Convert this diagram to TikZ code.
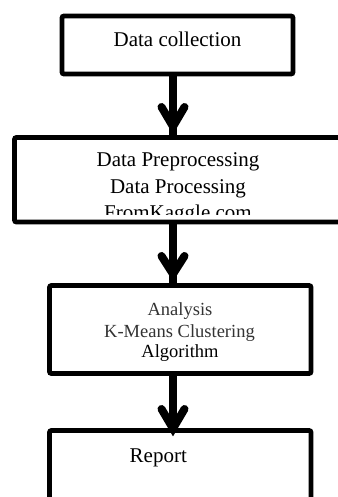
\documentclass[tikz,border=0pt]{standalone}
\usepackage{fontspec}
\setmainfont{Liberation Serif}
\usetikzlibrary{calc}
\begin{document}
\begin{tikzpicture}[x=1pt,y=-1pt,
  box/.style={draw=black, line width=4.8pt, rounded corners=2pt, inner sep=0pt, outer sep=0pt},
  txt/.style={inner sep=0pt, anchor=base, font=\fontsize{21}{25}\selectfont},
  smalltxt/.style={inner sep=0pt, anchor=base, font=\fontsize{18.5}{22}\selectfont},
  shaft/.style={line width=7.5pt},
  chev/.style={line width=8pt, line cap=round, line join=miter}]
\useasboundingbox (0,0) rectangle (337,497);
% boxes
\node[box, minimum width=231pt, minimum height=58pt] (b1) at (177.5,45) {};
\node[box, minimum width=330.5pt, minimum height=84.5pt] (b2) at (179.75,179.75) {};
\node[box, minimum width=261.5pt, minimum height=88pt] (b3) at (180.25,329.5) {};
\node[box, minimum width=261.5pt, minimum height=74.5pt] (b4) at (180.25,467.75) {};
% texts
\node[txt] (t1) at (177.5,46.7) {Data collection};
\node[txt] (t2a) at (178,167) {Data Preprocessing};
\node[txt] (t2b) at (178,193) {Data Processing};
\begin{scope}
  \clip (0,140) rectangle (337,214);
  \node[txt] (t2c) at (178,219) {FromKaggle.com};
\end{scope}
\node[smalltxt, text=black!80] (t3a) at (180,315.5) {Analysis};
\node[smalltxt, text=black!80] (t3b) at (179.5,337) {K-Means Clustering};
\node[smalltxt] (t3c) at (180,357) {Algorithm};
\node[txt] (t4) at (158.3,462) {Report};
% connectors
\coordinate (ax) at (173,0);
\draw[shaft] (ax |- b1.south) -- (ax |- b2.north);
\draw[chev] ($(ax |- b2.north)+(-11.5,-30.5)$) -- ($(ax |- b2.north)+(0,-11)$) -- ($(ax |- b2.north)+(11.5,-30.5)$);
\draw[shaft] (ax |- b2.south) -- (ax |- b3.north);
\draw[chev] ($(ax |- b3.north)+(-11.5,-29.5)$) -- ($(ax |- b3.north)+(0,-11.5)$) -- ($(ax |- b3.north)+(11.5,-29.5)$);
\draw[shaft] (ax |- b3.south) -- (ax |- b4.north);
\draw[chev] ($(ax |- b4.north)+(-11.5,-21.5)$) -- ($(ax |- b4.north)+(0,-2)$) -- ($(ax |- b4.north)+(11.5,-21.5)$);
\end{tikzpicture}
\end{document}
